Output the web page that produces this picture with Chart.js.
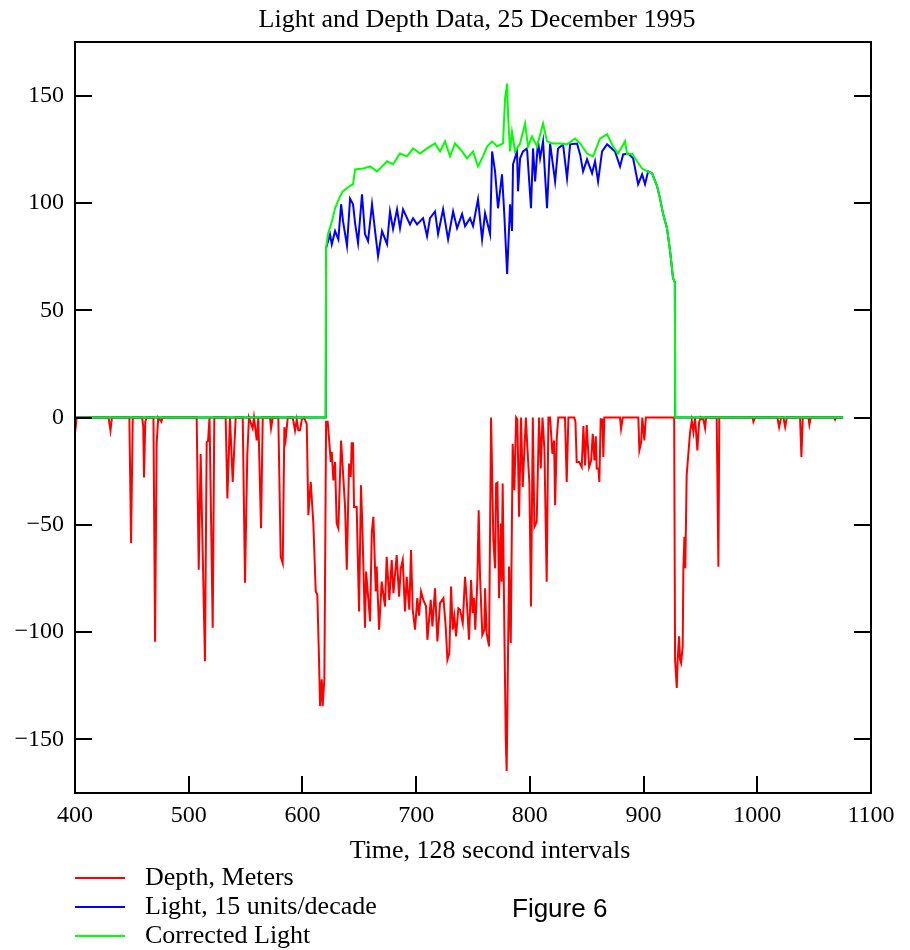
<!DOCTYPE html>
<html><head><meta charset="utf-8">
<script src="https://cdn.jsdelivr.net/npm/chart.js@4.4.1/dist/chart.umd.min.js"></script>
<style>html,body{margin:0;padding:0;background:#fff;}#wrap{width:910px;height:950px;position:relative;}</style>
</head><body><div id="wrap"><canvas id="c" width="910" height="950"></canvas></div>
<script>
const TITLE = "Light and Depth Data, 25 December 1995";
const X_TITLE = "Time, 128 second intervals";
const SERIES_NAMES = ["Depth, Meters", "Light, 15 units/decade", "Corrected Light"];
const FIGURE_LABEL = "Figure 6";
const X_TICKS = [400, 500, 600, 700, 800, 900, 1000, 1100];
const Y_TICKS = [-150, -100, -50, 0, 50, 100, 150];

const depthTime = [400,401.5,429.5,431.2,432.5,447.8,449.3,450.8,459,460,460.7,461.8,463,469,470.4,471.8,473.2,476,477,507,508.8,510.5,514.3,515.8,517,518.3,521.1,522.5,532.5,534,536.3,538.7,541.3,547.5,549.5,551.5,553,556.2,557.4,559.8,561.2,563.6,565.1,571.5,572.4,573.9,578.8,580.9,582.7,584.1,585.3,586.2,587.1,591.1,592,593.5,595,596.4,597.9,599.4,601.4,603.8,605.2,607.3,609.6,611.7,613.1,614.6,615.5,617,617.8,619.3,620.8,622.2,623.7,624.9,625.8,627.2,628.7,630.1,631.6,634,637.5,639,641,642.5,643.3,644.5,645.4,647.7,649.8,651.5,652.7,655,656,658,659.5,661,662.4,664.5,665.3,667.4,669.7,672.6,674.1,676.4,678.5,680,682.9,685,686.5,688.2,690.2,691.7,694,695.5,697,699,701,702.5,704.3,706.3,708.7,709.9,712.8,714.3,716.6,718.7,721,724,726,727.5,729.2,730.7,732.2,733.6,735.1,737.1,738.6,741,743,744.5,746.5,748.3,749.7,750.9,752,753.8,755,756.2,758.2,760,760.6,762,764.1,765.9,767.9,769.4,770.3,771.5,772.9,774.4,775.2,776.1,777.6,778.8,779.6,781.7,783.2,784.9,786.4,787.9,789,790.5,792.3,793.7,796.5,797.8,799.6,801,802.6,804,806,808.1,809.6,811.1,812.8,814.8,816.3,817.8,819.8,821.3,822.2,823.7,825,830.9,832.4,833.9,839.1,840.1,841.2,843.3,845.6,847.1,848.5,850,852.1,853.9,855.3,856.8,858,858.8,860.3,861.1,862.3,863.8,864.6,865.5,879.3,880.2,881.7,895.4,896.3,897.9,898.9,900.7,902,926.9,927.7,929.2,930,931.2,932.1,933,934.4,935,935.9,936.7,937.9,940.9,942.4,943.8,945.3,947.3,948.8,950.3,951.2,952.6,954.1,955,964.3,965.8,966.6,996,996.6,998.1,1017.7,1019.2,1020.9,1023,1024.5,1026,1037.6,1038.8,1040,1045,1045.8,1047,1067.5,1068.4,1069.3,1075.5];
const depthValue = [-7.4,0,0,-6,0,0,-58.5,0,0,-4,-28,-2,0,0,-104.5,-12,0,-2,0,0,-71,-17,-113.6,-11.5,-11,0,-98,0,0,-37.7,0,-30,0,0,-77,-17.6,0,-5,0,-10.7,0,-51.6,0,0,-5,0,0,-64.9,-67.9,-4.5,-10,-5,0,0,-1.5,-6,-1,-6,-6,-1,0,-3,-45.5,-30,-49.3,-81.1,-82.6,-112.9,-134.5,-122,-134.5,-122,-2,-2,-12,-20.7,-16,-29.3,-20.7,-49.3,-51.6,-10.7,-41.7,-71,-21.5,-27.7,-12,-12,-41.7,-41.7,-90.4,-31.6,-50.9,-98,-71.8,-85,-95,-53.3,-46.3,-81.1,-69.5,-98.9,-76.5,-88.1,-64.9,-85,-66.4,-81.9,-64.1,-83.5,-70.3,-66.4,-90.4,-74.2,-89.6,-61.8,-89.6,-98.9,-84.2,-92.4,-81.1,-85,-88,-103.6,-85,-97.4,-79.6,-104.4,-86.5,-84.2,-97.4,-112.9,-109.8,-78.8,-98.9,-92.7,-102,-88.9,-89.6,-95.8,-74.2,-85,-103.6,-75.7,-91.2,-84.2,-98.9,-76.5,-43.2,-74.2,-101.3,-98.9,-79.6,-100.5,-106.7,0,-57,-70.3,-30.8,-30.4,-84.2,-49.4,-76.5,-30.8,-100,-150,-164.7,-69.5,-105.1,-12.2,-33.9,0,-1,-46.3,0,-32.4,0,-13.8,-30.8,-88.1,0,-50.9,-48.6,0,-23.8,0,-14.6,-76.5,0,0,-16.9,-10.7,-40.9,-9.3,0,0,-30,0,0,-2,-20.7,-20.7,-23.1,-4,-22.3,-3.5,-23.1,-20,-7.6,-20,-8.8,-23.8,-23.8,-30,-0.8,-1,-18.4,0,0,-5.3,0,0,-15.3,-11.5,0,-10.7,0,0,-112.9,-126,-112.9,-102,-112.9,-114.4,-106.7,-71,-55.6,-70.3,-26.9,-6.8,-1.5,-6.8,0,-15.3,-2.3,0,-0.8,-0.8,-5,0,0,-69.5,0,0,-2,0,0,-4.5,0,0,-4.4,0,0,-18.4,0,0,-3.3,0,0,-1,0,0];

const lightTime = [400,620.5,620.8,624.3,625.8,628.7,631.6,634,635.7,639.2,641.9,644.5,646.3,648.9,652.4,655,657.7,661.2,663.9,666.5,670,674.4,677,679.7,683.2,685.8,688.5,692,694.6,697.3,700.8,706.1,709.6,712.2,716.6,719.3,723.7,728.1,732.5,736,740.4,743,747.4,750,754.4,758,760.6,765,766.8,769.4,772,775.5,777.5,780,782.6,784.3,785.2,788.7,789.6,791.4,794,797.5,801,802.8,804.6,807.2,809,811.6,815.1,817.8,822.2,824.8,829.2,832.7,835.4,841.5,844.2,846.8,850.3,854.7,857.3,860,863.5,867.9,874.9,879.3,882,886.4,890.8,895.2,898.7,901.3,904,907.5,911.9,914.5,917.2,920.6,923.3,925.9,927.5,927.8,1075.5];
const lightValue = [0,0,79,85.3,80.7,86.9,83,99.4,91.5,80,102,99.4,90.6,81.3,104,85.5,82.2,99.4,86.9,75.2,86.9,80.8,96,87.8,97,88.2,97,92.9,90,92.9,90,92.9,84.5,92.9,96,85.5,97,83,96,88.2,94.8,89.2,92.9,89.2,101.7,83,95.2,85.5,124,114.7,97.5,113.3,95,66.9,99.4,86.9,118,124,105.4,120.8,124,125.4,97.5,125.4,110,128.7,120.8,128.7,97.5,127.7,110,125.4,127.3,111.5,127.3,127.7,122.6,114.7,120.3,113.8,119.4,110,124,127.3,124,117,122.6,123,120.8,108.7,113.3,108.7,114.7,113.8,107.8,102,94.8,88.2,77.6,65,63,0,0];

const correctedTime = [400,620.5,620.8,622.5,626,628.7,633,635.7,641.9,644.5,646.3,653.3,659.5,665.6,668.3,674.4,679.7,685.8,692,697.3,703.4,709.6,716.6,721,725.4,729.8,734.2,740.4,744.8,750,754.4,758.8,762.4,766.8,771.2,776.4,778.2,780,780.8,782.6,784.3,787,791.4,795.8,798.4,801.9,806.3,811.6,815.1,820.4,826.6,832.7,839.8,844.2,850.3,855.6,861.7,867.9,873.2,877.6,883.7,885.5,889.9,894.3,898.7,903.1,907.5,911.9,914.5,917.2,920.6,923.3,925.9,927.5,927.8,1075.5];
const correctedValue = [0,0,79,85.5,91.5,97.5,103,105.5,108,108.7,115.6,116,117,114.7,116,119.4,118,123,121.7,125.4,123,125.4,127.7,124,128.7,121.7,127.7,124,120.8,124,117,121.7,126.3,128.7,126.3,127.7,148.6,155.6,141,124,133,124,127.7,137,126.3,131,126.3,137,128.7,127.7,127.7,127.3,130,127.7,123,121.7,130,132,126.3,123,128.7,122.6,123,119.4,116,114.7,113.8,107.8,102,94.8,88.2,77.6,65,63,0,0];

const COLORS = ["#ff0000", "#0000ff", "#00ff00"];
const SERIF = '"Liberation Serif", "Times New Roman", serif';
const SANS = '"Liberation Sans", Arial, sans-serif';

function pts(t, v) { return t.map((x, i) => ({ x: x, y: v[i] })); }

const decor = {
  id: 'decor',
  afterDatasetsDraw(chart) {
    const { ctx, chartArea: a, scales: { x, y } } = chart;
    ctx.save();
    ctx.strokeStyle = '#000';
    ctx.lineWidth = 2;
    ctx.strokeRect(a.left, a.top, a.right - a.left, a.bottom - a.top);
    ctx.beginPath();
    Y_TICKS.forEach(v => {
      const p = Math.round(y.getPixelForValue(v));
      ctx.moveTo(a.left, p); ctx.lineTo(a.left + 17, p);
      ctx.moveTo(a.right, p); ctx.lineTo(a.right - 17, p);
    });
    X_TICKS.forEach(v => {
      const p = Math.round(x.getPixelForValue(v));
      ctx.moveTo(p, a.bottom); ctx.lineTo(p, a.bottom - 17);
    });
    ctx.stroke();

    ctx.fillStyle = '#000';
    ctx.textAlign = 'center';
    ctx.textBaseline = 'middle';
    ctx.font = '26px ' + SERIF;
    ctx.fillText(TITLE, (a.left + a.right) / 2 + 4, 20);
    ctx.fillText(X_TITLE, (a.left + a.right) / 2 + 17, 851);

    // legend
    const rows = [878, 907, 936];
    ctx.textAlign = 'left';
    SERIES_NAMES.forEach((name, i) => {
      ctx.strokeStyle = COLORS[i];
      ctx.lineWidth = 2;
      ctx.beginPath();
      ctx.moveTo(75, rows[i]); ctx.lineTo(125, rows[i]);
      ctx.stroke();
      ctx.fillStyle = '#000';
      ctx.font = '26px ' + SERIF;
      ctx.fillText(name, 145, rows[i]);
    });
    ctx.font = '26px ' + SANS;
    ctx.fillText(FIGURE_LABEL, 512, 910);
    ctx.restore();
  }
};

new Chart(document.getElementById('c'), {
  type: 'scatter',
  data: {
    datasets: [
      { label: SERIES_NAMES[2], data: pts(correctedTime, correctedValue), borderColor: COLORS[2], backgroundColor: COLORS[2] },
      { label: SERIES_NAMES[1], data: pts(lightTime, lightValue), borderColor: COLORS[1], backgroundColor: COLORS[1] },
      { label: SERIES_NAMES[0], data: pts(depthTime, depthValue), borderColor: COLORS[0], backgroundColor: COLORS[0] }
    ].map(d => Object.assign(d, { showLine: true, pointRadius: 0, borderWidth: 2, tension: 0, fill: false }))
  },
  options: {
    responsive: false,
    animation: false,
    devicePixelRatio: 1,
    layout: { padding: { top: 42, right: 39, bottom: 0, left: 0 } },
    plugins: { legend: { display: false }, tooltip: { enabled: false }, title: { display: false } },
    scales: {
      x: {
        type: 'linear', min: 400, max: 1100,
        afterBuildTicks: s => { s.ticks = X_TICKS.map(v => ({ value: v })); },
        afterFit: s => { s.height = 157; },
        grid: { display: false, drawTicks: false },
        border: { display: false },
        ticks: { color: '#000', font: { family: SERIF, size: 24 }, padding: 8, maxRotation: 0, autoSkip: false,
          callback: v => String(v) }
      },
      y: {
        type: 'linear', min: -175, max: 175,
        afterBuildTicks: s => { s.ticks = Y_TICKS.map(v => ({ value: v })); },
        afterFit: s => { s.width = 75; },
        grid: { display: false, drawTicks: false },
        border: { display: false },
        ticks: { color: '#000', font: { family: SERIF, size: 24 }, padding: 11,
          callback: v => (v < 0 ? '\u2212' + Math.abs(v) : String(v)) }
      }
    }
  },
  plugins: [decor]
});
</script></body></html>
